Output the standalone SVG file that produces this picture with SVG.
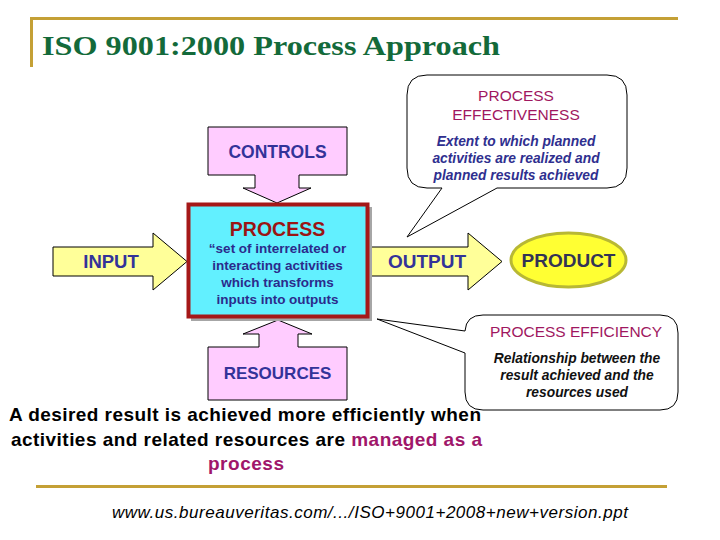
<svg xmlns="http://www.w3.org/2000/svg" width="720" height="540" viewBox="0 0 720 540">
<style>
.bg{fill:#ffffff}
.rule{fill:none;stroke:#c4a035;stroke-width:3}
.title{font-family:"Liberation Serif","Times New Roman",serif;font-weight:bold;font-size:28px;fill:#136a3a}
.pink{fill:#ffccff;stroke:#000;stroke-width:1}
.yel{fill:#ffff99;stroke:#000;stroke-width:1}
.lbl{font-family:"Liberation Sans",Arial,sans-serif;font-weight:bold;fill:#333399;text-anchor:middle}
.ptitle{font-family:"Liberation Sans",Arial,sans-serif;font-weight:bold;font-size:19.5px;fill:#9b1414;text-anchor:middle}
.psub{font-family:"Liberation Sans",Arial,sans-serif;font-weight:bold;font-size:13.5px;fill:#2b2b8c;text-anchor:middle}
.callout{fill:#ffffff;stroke:#000;stroke-width:1}
.ctitle{font-family:"Liberation Sans",Arial,sans-serif;font-size:15.5px;fill:#a0175f;text-anchor:middle}
.csub{font-family:"Liberation Sans",Arial,sans-serif;font-weight:bold;font-style:italic;font-size:13.8px;text-anchor:middle}
.body{font-family:"Liberation Sans",Arial,sans-serif;font-weight:bold;font-size:19px;fill:#000;text-anchor:middle}
.mag{fill:#a0166a}
.url{font-family:"Liberation Sans",Arial,sans-serif;font-style:italic;font-size:17px;fill:#000;text-anchor:middle}
</style>
<rect class="bg" x="0" y="0" width="720" height="540"/>
<g id="header">
<path class="rule" d="M30,18.5 H678 M31.5,17 V67"/>
<text class="title" x="42" y="55" textLength="458" lengthAdjust="spacingAndGlyphs">ISO 9001:2000 Process Approach</text>
</g>
<g id="connectors"></g>
<g id="controls">
<path class="pink" d="M208,127 H347 V175 H299 V188 H311 L277,203 L243,188 H255 V175 H208 Z"/>
<text class="lbl" x="277.5" y="158" font-size="17.5">CONTROLS</text>
</g>
<g id="resources">
<path class="pink" d="M208,400 H347 V347 H298 V334 H312 L278,320 L243,334 H259 V347 H208 Z"/>
<text class="lbl" x="277.5" y="379" font-size="17">RESOURCES</text>
</g>
<g id="input">
<path class="yel" d="M53,247 H153 V233 L187,261.5 L153,290 V276 H53 Z"/>
<text class="lbl" x="111" y="267.5" font-size="18.5">INPUT</text>
</g>
<g id="output">
<path class="yel" d="M368,247 H468 V233 L502,261.5 L468,290 V276 H368 Z"/>
<text class="lbl" x="427" y="267.5" font-size="19">OUTPUT</text>
</g>
<g id="process">
<rect x="191" y="207" width="181" height="114" fill="#a6a6a6"/>
<rect x="188.5" y="204.5" width="179" height="112" fill="#62f0ff" stroke="#a51818" stroke-width="4"/>
<text class="ptitle" x="277.5" y="236">PROCESS</text>
<text class="psub" x="277.5" y="253">“set of interrelated or</text>
<text class="psub" x="277.5" y="270">interacting activities</text>
<text class="psub" x="277.5" y="287">which transforms</text>
<text class="psub" x="277.5" y="304">inputs into outputs</text>
</g>
<g id="product">
<ellipse cx="568.5" cy="260" rx="57.5" ry="27" fill="#ffff33" stroke="#b8b834" stroke-width="3"/>
<text x="568.5" y="267" font-family="Liberation Sans, Arial, sans-serif" font-weight="bold" font-size="19" fill="#333355" text-anchor="middle">PRODUCT</text>
</g>
<g id="effectiveness">
<path class="callout" d="M427,75 H607 Q627,75 627,95 V168 Q627,188 607,188 H497 L407,237 L442,188 H427 Q407,188 407,168 V95 Q407,75 427,75 Z"/>
<text class="ctitle" x="516" y="101">PROCESS</text>
<text class="ctitle" x="516" y="120">EFFECTIVENESS</text>
<text class="csub" x="516" y="146" fill="#2f2f8f">Extent to which planned</text>
<text class="csub" x="516" y="163" fill="#2f2f8f">activities are realized and</text>
<text class="csub" x="516" y="180" fill="#2f2f8f">planned results achieved</text>
</g>
<g id="efficiency">
<path class="callout" d="M483,315 H660 Q678,315 678,333 V392 Q678,410 660,410 H483 Q465,410 465,392 V353 L377,319 L465,331 Q466,315 483,315 Z"/>
<text class="ctitle" x="576" y="337">PROCESS EFFICIENCY</text>
<text class="csub" x="577" y="363" fill="#111111" font-size="14.3">Relationship between the</text>
<text class="csub" x="577" y="380" fill="#111111" font-size="14.3">result achieved and the</text>
<text class="csub" x="577" y="397" fill="#111111" font-size="14.3">resources used</text>
</g>
<g id="summary">
<text class="body" x="245" y="421" textLength="472" lengthAdjust="spacing">A desired result is achieved more efficiently when</text>
<text class="body" x="246.5" y="446" textLength="471" lengthAdjust="spacing">activities and related resources are <tspan class="mag">managed as a</tspan></text>
<text class="body mag" x="246" y="470" textLength="76" lengthAdjust="spacing">process</text>
</g>
<g id="footer">
<path class="rule" d="M36,486.5 H667"/>
<text class="url" x="370" y="518" textLength="516" lengthAdjust="spacing">www.us.bureauveritas.com/.../ISO+9001+2008+new+version.ppt</text>
</g>
</svg>
